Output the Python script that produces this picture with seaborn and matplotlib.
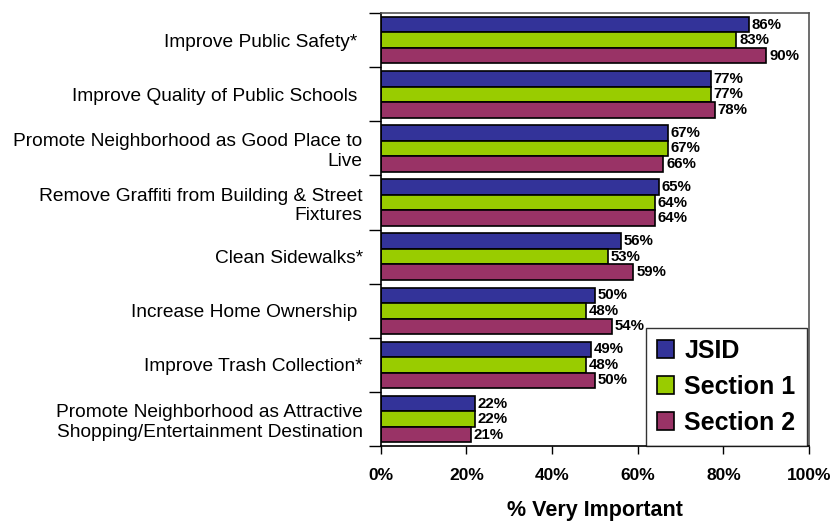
import pandas as pd
import seaborn as sns
import matplotlib.pyplot as plt
from matplotlib.ticker import FixedLocator, PercentFormatter

# Survey items (top to bottom)
items = [
    "Improve Public Safety* ",
    "Improve Quality of Public Schools ",
    "Promote Neighborhood as Good Place to\nLive",
    "Remove Graffiti from Building & Street\nFixtures",
    "Clean Sidewalks*",
    "Increase Home Ownership ",
    "Improve Trash Collection*",
    "Promote Neighborhood as Attractive\nShopping/Entertainment Destination",
]
groups = ["JSID", "Section 1", "Section 2"]
jsid = [86, 77, 67, 65, 56, 50, 49, 22]
section1 = [83, 77, 67, 64, 53, 48, 48, 22]
section2 = [90, 78, 66, 64, 59, 54, 50, 21]
colors = ["#333399", "#99CC00", "#993366"]

data = pd.DataFrame({
    "Item": items * 3,
    "Group": [g for g in groups for _ in items],
    "Pct": jsid + section1 + section2,
})

sns.set_style("white")
plt.rcParams["font.family"] = ["Liberation Sans", "DejaVu Sans"]
plt.rcParams.update({"text.color": "black", "axes.labelcolor": "black",
                     "xtick.color": "black", "ytick.color": "black"})

fig = plt.figure(figsize=(8.35, 5.23), dpi=100)
ax = fig.add_axes([0.456, 0.147, 0.513, 0.828])

sns.barplot(data=data, y="Item", x="Pct", hue="Group", order=items,
            hue_order=groups, palette=colors, orient="h", width=0.86,
            edgecolor="black", linewidth=1.2, saturation=1, ax=ax)

for cont in ax.containers:
    ax.bar_label(cont, fmt="%d%%", padding=2, fontsize=10.8, fontweight="bold")

ax.set_xlim(0, 100)
ax.set_ylim(len(items) - 0.5, -0.5)
ax.set_xticks([0, 20, 40, 60, 80, 100])
ax.xaxis.set_major_formatter(PercentFormatter(decimals=0))
ax.tick_params(axis="x", direction="out", length=6, width=1, pad=10,
               labelsize=12.5, bottom=True)
for lab in ax.get_xticklabels():
    lab.set_fontweight("bold")

ax.yaxis.set_minor_locator(FixedLocator([i - 0.5 for i in range(len(items) + 1)]))
ax.tick_params(axis="y", which="major", length=0, pad=13, labelsize=13.8)
ax.tick_params(axis="y", which="minor", direction="out", length=9, width=1,
               left=True)

ax.set_ylabel("")
ax.set_xlabel("% Very Important", fontsize=15.5, fontweight="bold", labelpad=12)

for side in ["left", "bottom"]:
    ax.spines[side].set_color("black")
    ax.spines[side].set_linewidth(1.2)
for side in ["top", "right"]:
    ax.spines[side].set_color("#555555")
    ax.spines[side].set_linewidth(1.2)

leg = ax.legend(loc="lower right", bbox_to_anchor=(0.995, 0.0),
                borderaxespad=0, prop={"size": 18, "weight": "bold"},
                frameon=True, fancybox=False, edgecolor="black",
                handlelength=0.7, handleheight=0.7, handletextpad=0.4,
                borderpad=0.45, labelspacing=0.48)
leg.get_frame().set_linewidth(1.0)

plt.savefig("out.png", dpi=100)
